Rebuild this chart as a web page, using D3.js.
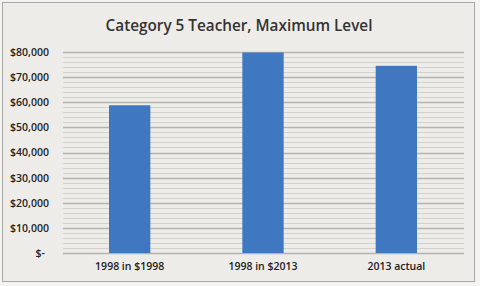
<!DOCTYPE html>
<html>
<head>
<meta charset="utf-8">
<script src="https://cdnjs.cloudflare.com/ajax/libs/d3/7.8.5/d3.min.js"></script>
<style>
  body { margin: 0; background: #fff; }
  svg { display: block; }
</style>
</head>
<body>
<div id="chart"></div>
<script>
var categories = ["1998 in $1998", "1998 in $2013", "2013 actual"];
var salaries = [58800, 79800, 74500];
var major_ticks = [0, 10000, 20000, 30000, 40000, 50000, 60000, 70000, 80000];
var title = "Category 5 Teacher, Maximum Level";

var width = 480,
    height = 286;
var margin = {top: 52, right: 16, bottom: 33, left: 63};

var svg = d3.select("#chart")
  .append("svg")
  .attr("width", width)
  .attr("height", height);

// chart background + frame
svg.append("rect")
  .attr("x", 0).attr("y", 0)
  .attr("width", width).attr("height", height)
  .attr("fill", "#f4f3f1");
svg.append("rect")
  .attr("x", 2.5).attr("y", 2.5)
  .attr("width", 472).attr("height", 279)
  .attr("fill", "#eeece9")
  .attr("stroke", "#a9a7a4")
  .attr("stroke-width", 1);

var x = d3.scaleBand()
  .domain(categories)
  .range([margin.left, width - margin.right - 1])
  .paddingInner(0.69)
  .paddingOuter(0.345);

var y = d3.scaleLinear()
  .domain([0, 80000])
  .range([height - margin.bottom, margin.top]);

// minor gridlines every 2,000
var minor = d3.range(0, 80001, 2000).filter(d => d % 10000 != 0);
svg.append("g")
  .selectAll("line")
  .data(minor)
  .enter()
  .append("line")
  .attr("x1", margin.left)
  .attr("x2", width - margin.right)
  .attr("y1", d => Math.round(y(d)) + 0.5)
  .attr("y2", d => Math.round(y(d)) + 0.5)
  .attr("stroke", "#d3d1ce")
  .attr("stroke-width", 1);

// major gridlines
svg.append("g")
  .selectAll("line")
  .data(major_ticks)
  .enter()
  .append("line")
  .attr("x1", margin.left)
  .attr("x2", width - margin.right)
  .attr("y1", d => Math.round(y(d)) + 0.5)
  .attr("y2", d => Math.round(y(d)) + 0.5)
  .attr("stroke", "#b5b3b0")
  .attr("stroke-width", 1.5);

// bars
svg.append("g")
  .selectAll("rect")
  .data(salaries)
  .enter()
  .append("rect")
  .attr("x", (d, i) => x(categories[i]))
  .attr("y", d => y(d))
  .attr("width", x.bandwidth())
  .attr("height", d => y(0) - y(d))
  .attr("fill", "#3f77c0");

// y axis labels
var fmt = d3.format(",");
var yAxis = d3.axisLeft(y)
  .tickValues(major_ticks)
  .tickSize(0)
  .tickPadding(14)
  .tickFormat(d => d == 0 ? "$-" : "$" + fmt(d));

svg.append("g")
  .attr("transform", "translate(" + margin.left + ",0)")
  .call(yAxis)
  .call(g => g.select(".domain").remove())
  .selectAll("text")
  .attr("fill", "#222")
  .attr("dx", d => d == 0 ? -4 : 0)
  .style("font-family", "'Open Sans', sans-serif")
  .style("font-weight", "600")
  .style("font-size", "10.5px");

// x axis labels
var xAxis = d3.axisBottom(x).tickSize(0).tickPadding(10);
svg.append("g")
  .attr("transform", "translate(0," + y(0) + ")")
  .call(xAxis)
  .call(g => g.select(".domain").remove())
  .selectAll("text")
  .attr("fill", "#222")
  .style("font-family", "'Open Sans', sans-serif")
  .style("font-weight", "600")
  .style("font-size", "10.5px");

// title
svg.append("text")
  .attr("x", 239)
  .attr("y", 31)
  .attr("text-anchor", "middle")
  .attr("fill", "#333")
  .style("font-family", "'Open Sans', sans-serif")
  .style("font-weight", "600")
  .style("font-size", "15.3px")
  .text(title);
</script>
</body>
</html>
